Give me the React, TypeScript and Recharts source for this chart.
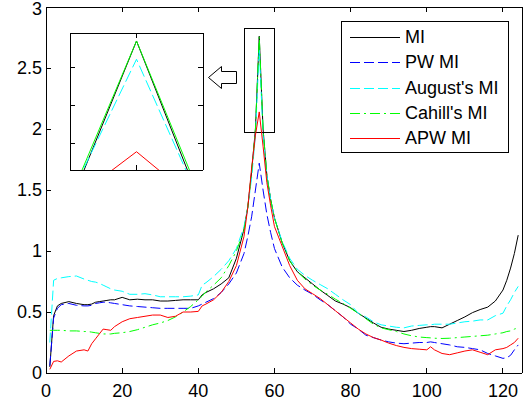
import React from 'react';
import { LineChart, Line, XAxis, YAxis, ReferenceArea, Legend } from 'recharts';

const FONT = '"Liberation Sans", Arial, sans-serif';

const X_VALUES = [
  1, 2, 3, 4, 6, 8, 10, 11, 12, 13,
  14, 15, 16, 17, 18, 20, 22, 24, 26, 28,
  30, 32, 34, 36, 38, 40, 41, 42, 44, 46,
  48, 50, 52, 53, 54, 55, 56, 57, 58, 59,
  60, 62, 64, 66, 68, 70, 72, 74, 76, 78,
  80, 82, 84, 86, 88, 90, 92, 94, 96, 98,
  100, 101, 102, 104, 106, 108, 110, 112, 114, 116,
  118, 120, 121, 122, 123, 124,
];

const MI = [
  0.05, 0.47, 0.55, 0.57, 0.585, 0.57, 0.56, 0.56, 0.565, 0.58,
  0.585, 0.59, 0.595, 0.6, 0.6, 0.62, 0.6, 0.605, 0.6, 0.6,
  0.59, 0.59, 0.595, 0.6, 0.6, 0.6, 0.64, 0.66, 0.69, 0.73,
  0.78, 0.94, 1.18, 1.36, 1.65, 2.0, 2.76, 2.0, 1.62, 1.42,
  1.27, 1.07, 0.92, 0.83, 0.78, 0.73, 0.68, 0.635, 0.59, 0.565,
  0.535, 0.49, 0.45, 0.41, 0.375, 0.36, 0.35, 0.34, 0.35, 0.365,
  0.375, 0.38, 0.38, 0.37, 0.4, 0.43, 0.46, 0.495, 0.52, 0.54,
  0.59, 0.68, 0.76, 0.86, 0.98, 1.13,
];

const PW_MI = [
  0.06, 0.45, 0.53, 0.56, 0.57, 0.555, 0.55, 0.55, 0.555, 0.57,
  0.575, 0.58, 0.58, 0.575, 0.57, 0.56, 0.55, 0.545, 0.54, 0.535,
  0.53, 0.53, 0.53, 0.53, 0.53, 0.55, 0.565, 0.58, 0.61, 0.66,
  0.73, 0.82, 0.98, 1.12, 1.28, 1.5, 1.72, 1.5, 1.3, 1.15,
  1.02, 0.87, 0.78, 0.72, 0.68, 0.645, 0.6, 0.56, 0.51, 0.46,
  0.4, 0.36, 0.31, 0.29, 0.27, 0.255, 0.245, 0.24, 0.245, 0.25,
  0.25, 0.255, 0.25, 0.24, 0.23, 0.215, 0.21, 0.2, 0.19, 0.16,
  0.14, 0.12, 0.125, 0.145, 0.19, 0.23,
];

const AUGUST_MI = [
  0.25, 0.76, 0.775, 0.78, 0.79, 0.795, 0.77, 0.76, 0.75, 0.745,
  0.735, 0.72, 0.705, 0.69, 0.68, 0.67, 0.645, 0.645, 0.65, 0.64,
  0.625, 0.625, 0.625, 0.625, 0.63, 0.64, 0.72, 0.74, 0.79, 0.85,
  0.92, 1.02, 1.2, 1.36, 1.6, 1.95, 2.66, 1.95, 1.62, 1.42,
  1.27, 1.08, 0.94, 0.85, 0.8, 0.76, 0.725, 0.69, 0.645, 0.6,
  0.56, 0.49, 0.46, 0.42, 0.395, 0.385, 0.375, 0.37, 0.385, 0.39,
  0.395, 0.395, 0.4, 0.4, 0.4, 0.41, 0.42, 0.425, 0.435, 0.435,
  0.47, 0.49, 0.55, 0.6, 0.66, 0.71,
];

const CAHILL_MI = [
  0.35, 0.35, 0.35, 0.35, 0.345, 0.345, 0.34, 0.34, 0.335, 0.33,
  0.325, 0.32, 0.32, 0.32, 0.325, 0.33, 0.34, 0.355, 0.375, 0.395,
  0.41, 0.43, 0.46, 0.5, 0.545, 0.6, 0.63, 0.665, 0.72, 0.78,
  0.88, 1.0, 1.17, 1.36, 1.65, 2.0, 2.76, 2.0, 1.62, 1.42,
  1.27, 1.07, 0.92, 0.83, 0.77, 0.72, 0.68, 0.645, 0.605, 0.57,
  0.53, 0.49, 0.445, 0.4, 0.37, 0.355, 0.34, 0.32, 0.305, 0.295,
  0.29, 0.288, 0.285, 0.283, 0.285, 0.29, 0.295, 0.3, 0.305, 0.31,
  0.32, 0.33, 0.34, 0.345, 0.36, 0.37,
];

const APW_MI = [
  0.03, 0.095, 0.1, 0.09, 0.14, 0.18, 0.19, 0.18, 0.24, 0.28,
  0.32, 0.36, 0.355, 0.35, 0.38, 0.42, 0.445, 0.455, 0.465, 0.475,
  0.475, 0.455, 0.465, 0.5, 0.5, 0.505, 0.55, 0.565, 0.6, 0.66,
  0.75, 0.88, 1.12, 1.36, 1.68, 1.95, 2.14, 1.86, 1.56, 1.37,
  1.2, 1.04, 0.88, 0.76, 0.69, 0.65, 0.61, 0.56, 0.51, 0.46,
  0.41, 0.36, 0.32, 0.29, 0.27, 0.245, 0.225, 0.21, 0.2, 0.195,
  0.19, 0.215, 0.19, 0.16, 0.15, 0.165, 0.18, 0.19, 0.17, 0.15,
  0.19, 0.2, 0.21, 0.23, 0.25, 0.285,
];

const X_TICKS = [0, 20, 40, 60, 80, 100, 120];
const Y_TICKS = [0, 0.5, 1, 1.5, 2, 2.5, 3];
const X_DOMAIN = [0, 125];
const Y_DOMAIN = [0, 3];

// zoom window shown in the inset
const ZOOM_X = [52, 60];
const ZOOM_Y = [1.97, 2.82];

// inset (magnified peak)
const INSET_X = [55, 56, 57];
const INSET_MI = [2.339, 2.769, 2.326];
const INSET_AUGUST = [2.359, 2.721, 2.329];
const INSET_CAHILL = [2.355, 2.769, 2.343];
const INSET_APW = [2.346, 2.478, 2.334];
const INSET_X_DOMAIN = [55, 57];
const INSET_Y_DOMAIN = [2.43, 2.79];
const INSET_X_TICKS = [56];
const INSET_Y_TICKS = [2.5, 2.6, 2.7];

const SERIES = [
  { key: 'mi', name: 'MI', color: '#000000', dash: undefined as string | undefined },
  { key: 'pw', name: 'PW MI', color: '#0000ff', dash: '10 4' },
  { key: 'aug', name: "August's MI", color: '#00ffff', dash: '10 4' },
  { key: 'cahill', name: "Cahill's MI", color: '#00ff00', dash: '10 4 2 4' },
  { key: 'apw', name: 'APW MI', color: '#ff0000', dash: undefined as string | undefined },
];

const mainData = X_VALUES.map((x, i) => ({
  x,
  mi: MI[i],
  pw: PW_MI[i],
  aug: AUGUST_MI[i],
  cahill: CAHILL_MI[i],
  apw: APW_MI[i],
}));

const insetData = INSET_X.map((x, i) => ({
  x,
  mi: INSET_MI[i],
  aug: INSET_AUGUST[i],
  cahill: INSET_CAHILL[i],
  apw: INSET_APW[i],
}));

const TICK_LEN = 5;
const crisp = { stroke: '#000', strokeWidth: 1, shapeRendering: 'crispEdges' as const };

// Inward tick marks (MATLAB style), drawn relative to the label anchor recharts gives us.
const makeTick = (side: 'bottom' | 'top' | 'left' | 'right', margin: number, label: boolean) => (props: any) => {
  const { x, y, payload } = props;
  let line: { x1: number; y1: number; x2: number; y2: number };
  if (side === 'bottom') {
    const ay = y - margin;
    line = { x1: x, y1: ay, x2: x, y2: ay - TICK_LEN };
  } else if (side === 'top') {
    const ay = y + margin;
    line = { x1: x, y1: ay, x2: x, y2: ay + TICK_LEN };
  } else if (side === 'left') {
    const ax = x + margin;
    line = { x1: ax, y1: y, x2: ax + TICK_LEN, y2: y };
  } else {
    const ax = x - margin;
    line = { x1: ax, y1: y, x2: ax - TICK_LEN, y2: y };
  }
  return (
    <g>
      <line {...line} stroke="#000" strokeWidth={1} shapeRendering="crispEdges" />
      {label && side === 'bottom' && (
        <text x={x} y={y} dy="0.71em" textAnchor="middle" fill="#000" fontSize={18} fontFamily={FONT}>
          {payload.value}
        </text>
      )}
      {label && side === 'left' && (
        <text
          x={x}
          y={Math.max(y, 9)}
          dy="0.355em"
          textAnchor="end"
          fill="#000"
          fontSize={18}
          fontFamily={FONT}
        >
          {payload.value}
        </text>
      )}
    </g>
  );
};

const LegendBox = () => (
  <div
    style={{
      width: 166,
      height: 130,
      border: '1px solid #000',
      background: '#fff',
      position: 'relative',
      fontFamily: FONT,
      fontSize: 18,
      color: '#000',
    }}
  >
    {SERIES.map((s, i) => (
      <div
        key={s.key}
        style={{ position: 'absolute', left: 0, top: 3 + i * 25.25, height: 24, display: 'flex', alignItems: 'center' }}
      >
        <svg width={60} height={24} style={{ display: 'block' }}>
          <line
            x1={8}
            x2={58}
            y1={12}
            y2={12}
            stroke={s.color}
            strokeWidth={1}
            strokeDasharray={s.dash}
            shapeRendering="crispEdges"
          />
        </svg>
        <span style={{ marginLeft: 3, lineHeight: '24px', whiteSpace: 'nowrap' }}>{s.name}</span>
      </div>
    ))}
  </div>
);

export default function App() {
  return (
    <div style={{ position: 'absolute', left: 0, top: 0, width: 526, height: 402, background: '#fff' }}>
      <LineChart width={526} height={402} data={mainData} margin={{ top: 6, right: 3, bottom: 0, left: 0 }}>
        <XAxis
          xAxisId="b"
          dataKey="x"
          type="number"
          domain={X_DOMAIN}
          ticks={X_TICKS}
          interval={0}
          height={29}
          tickSize={0}
          tickMargin={11}
          axisLine={crisp}
          tickLine={false}
          tick={makeTick('bottom', 11, true)}
        />
        <XAxis
          xAxisId="t"
          orientation="top"
          dataKey="x"
          type="number"
          domain={X_DOMAIN}
          ticks={X_TICKS}
          interval={0}
          height={1}
          tickSize={0}
          tickMargin={0}
          axisLine={crisp}
          tickLine={false}
          tick={makeTick('top', 0, false)}
        />
        <YAxis
          yAxisId="l"
          type="number"
          domain={Y_DOMAIN}
          ticks={Y_TICKS}
          interval={0}
          width={46}
          tickSize={0}
          tickMargin={4}
          axisLine={crisp}
          tickLine={false}
          tick={makeTick('left', 4, true)}
        />
        <YAxis
          yAxisId="r"
          orientation="right"
          type="number"
          domain={Y_DOMAIN}
          ticks={Y_TICKS}
          interval={0}
          width={1}
          tickSize={0}
          tickMargin={0}
          axisLine={crisp}
          tickLine={false}
          tick={makeTick('right', 0, false)}
        />
        {SERIES.map((s) => (
          <Line
            key={s.key}
            xAxisId="b"
            yAxisId="l"
            type="linear"
            dataKey={s.key}
            name={s.name}
            stroke={s.color}
            strokeWidth={1}
            strokeDasharray={s.dash}
            dot={false}
            activeDot={false}
            isAnimationActive={false}
          />
        ))}
        <ReferenceArea
          xAxisId="b"
          yAxisId="l"
          x1={ZOOM_X[0]}
          x2={ZOOM_X[1]}
          y1={ZOOM_Y[0]}
          y2={ZOOM_Y[1]}
          fill="none"
          fillOpacity={0}
          stroke="#000"
          strokeWidth={1}
          shapeRendering="crispEdges"
        />
        <Legend
          layout="vertical"
          align="center"
          verticalAlign="middle"
          wrapperStyle={{ left: 341, top: 21, width: 'auto', height: 'auto' }}
          content={() => <LegendBox />}
        />
      </LineChart>

      <svg width={526} height={402} style={{ position: 'absolute', left: 0, top: 0, pointerEvents: 'none' }}>
        <path
          d="M208.5,77.5 L221.5,66.5 L221.5,71.5 L236.5,71.5 L236.5,83.5 L221.5,83.5 L221.5,88.5 Z"
          fill="#fff"
          stroke="#000"
          strokeWidth={1}
        />
      </svg>

      <div style={{ position: 'absolute', left: 69, top: 32, background: '#fff' }}>
        <LineChart width={135} height={139} data={insetData} margin={{ top: 0, right: 0, bottom: 0, left: 0 }}>
          <XAxis
            xAxisId="b"
            dataKey="x"
            type="number"
            domain={INSET_X_DOMAIN}
            ticks={INSET_X_TICKS}
            height={1}
            tickSize={0}
            tickMargin={0}
            axisLine={crisp}
            tickLine={false}
            tick={makeTick('bottom', 0, false)}
            allowDataOverflow
          />
          <XAxis
            xAxisId="t"
            orientation="top"
            dataKey="x"
            type="number"
            domain={INSET_X_DOMAIN}
            ticks={INSET_X_TICKS}
            height={1}
            tickSize={0}
            tickMargin={0}
            axisLine={crisp}
            tickLine={false}
            tick={makeTick('top', 0, false)}
            allowDataOverflow
          />
          <YAxis
            yAxisId="l"
            type="number"
            domain={INSET_Y_DOMAIN}
            ticks={INSET_Y_TICKS}
            width={1}
            tickSize={0}
            tickMargin={0}
            axisLine={crisp}
            tickLine={false}
            tick={makeTick('left', 0, false)}
            allowDataOverflow
          />
          <YAxis
            yAxisId="r"
            orientation="right"
            type="number"
            domain={INSET_Y_DOMAIN}
            ticks={INSET_Y_TICKS}
            width={1}
            tickSize={0}
            tickMargin={0}
            axisLine={crisp}
            tickLine={false}
            tick={makeTick('right', 0, false)}
            allowDataOverflow
          />
          <Line xAxisId="b" yAxisId="l" dataKey="mi" stroke="#000" strokeWidth={1} dot={false} activeDot={false} isAnimationActive={false} />
          <Line xAxisId="b" yAxisId="l" dataKey="aug" stroke="#00ffff" strokeWidth={1} strokeDasharray="12 4" dot={false} activeDot={false} isAnimationActive={false} />
          <Line xAxisId="b" yAxisId="l" dataKey="cahill" stroke="#00ff00" strokeWidth={1} dot={false} activeDot={false} isAnimationActive={false} />
          <Line xAxisId="b" yAxisId="l" dataKey="apw" stroke="#ff0000" strokeWidth={1} dot={false} activeDot={false} isAnimationActive={false} />
        </LineChart>
      </div>
    </div>
  );
}
